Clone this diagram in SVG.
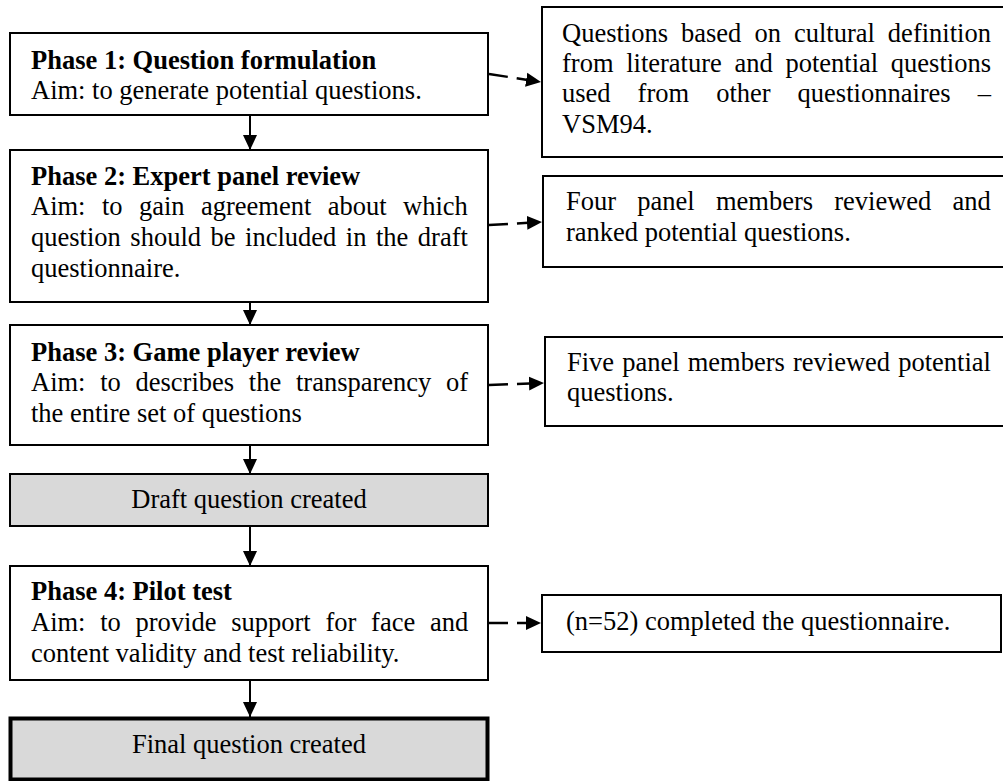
<svg xmlns="http://www.w3.org/2000/svg" width="1003" height="781" viewBox="0 0 1003 781">
<style>
.box{fill:#ffffff;stroke:#000;stroke-width:2}
.gray{fill:#d9d9d9;stroke:#000;stroke-width:2}
.thick{fill:#d9d9d9;stroke:#000;stroke-width:4}
text{font-family:"Liberation Serif","Times New Roman",serif;font-size:26.5px;fill:#000}
.b{font-weight:bold}
.solid{stroke:#000;stroke-width:2;fill:none}
.dash{stroke:#000;stroke-width:2.5;fill:none;stroke-dasharray:19 9}
</style>
<defs>
<marker id="ah" markerUnits="userSpaceOnUse" markerWidth="16" markerHeight="16" viewBox="0 0 16 16" refX="15" refY="8" orient="auto">
<path d="M0,1 L15,8 L0,15 Z" fill="#000"/>
</marker>
</defs>
<rect width="1003" height="781" fill="#fff"/>
<g id="connectors">
<line class="solid" x1="250" y1="115" x2="250" y2="150" marker-end="url(#ah)"/>
<line class="solid" x1="250" y1="302" x2="250" y2="325" marker-end="url(#ah)"/>
<line class="solid" x1="250" y1="445" x2="250" y2="474" marker-end="url(#ah)"/>
<line class="solid" x1="250" y1="526" x2="250" y2="566" marker-end="url(#ah)"/>
<line class="solid" x1="250" y1="680" x2="250" y2="717" marker-end="url(#ah)"/>
<line class="dash" x1="489" y1="74" x2="541" y2="82" marker-end="url(#ah)"/>
<line class="dash" x1="489" y1="225" x2="542" y2="222" marker-end="url(#ah)"/>
<line class="dash" x1="489" y1="385" x2="544" y2="383" marker-end="url(#ah)"/>
<line class="dash" x1="489" y1="623" x2="541" y2="623" marker-end="url(#ah)"/>
</g>
<g id="phase1">
<rect class="box" x="10" y="33" width="478" height="82"/>
<text x="31" y="69" class="b">Phase 1: Question formulation</text>
<text x="31" y="99">Aim: to generate potential questions.</text>
</g>
<g id="phase2">
<rect class="box" x="10" y="150" width="478" height="152"/>
<text x="31" y="185" class="b">Phase 2: Expert panel review</text>
<text x="31" y="215" word-spacing="9.8">Aim: to gain agreement about which</text>
<text x="31" y="246" word-spacing="2.9">question should be included in the draft</text>
<text x="31" y="277">questionnaire.</text>
</g>
<g id="phase3">
<rect class="box" x="10" y="325" width="478" height="120"/>
<text x="31" y="361" class="b">Phase 3: Game player review</text>
<text x="31" y="391" word-spacing="8.1">Aim: to describes the transparency of</text>
<text x="31" y="422">the entire set of questions</text>
</g>
<g id="draft">
<rect class="gray" x="10" y="474" width="478" height="52"/>
<text x="249" y="508" text-anchor="middle">Draft question created</text>
</g>
<g id="phase4">
<rect class="box" x="10" y="566" width="478" height="114"/>
<text x="31" y="600" class="b">Phase 4: Pilot test</text>
<text x="31" y="631" word-spacing="8.1">Aim: to provide support for face and</text>
<text x="31" y="662">content validity and test reliability.</text>
</g>
<g id="final">
<rect class="thick" x="10.5" y="718.5" width="477" height="61"/>
<text x="249" y="753" text-anchor="middle">Final question created</text>
</g>
<g id="note1">
<rect class="box" x="542" y="7" width="470" height="150"/>
<text x="562" y="42" word-spacing="6.4">Questions based on cultural definition</text>
<text x="562" y="72" word-spacing="6.05">from literature and potential questions</text>
<text x="562" y="102" word-spacing="20.4">used from other questionnaires –</text>
<text x="562" y="133">VSM94.</text>
</g>
<g id="note2">
<rect class="box" x="543" y="176" width="470" height="91"/>
<text x="566" y="210" word-spacing="14.6">Four panel members reviewed and</text>
<text x="566" y="241">ranked potential questions.</text>
</g>
<g id="note3">
<rect class="box" x="545" y="337" width="470" height="89"/>
<text x="567" y="371" word-spacing="1.5">Five panel members reviewed potential</text>
<text x="567" y="401">questions.</text>
</g>
<g id="note4">
<rect class="box" x="542" y="595" width="459" height="57"/>
<text x="566" y="630">(n=52) completed the questionnaire.</text>
</g>
</svg>
